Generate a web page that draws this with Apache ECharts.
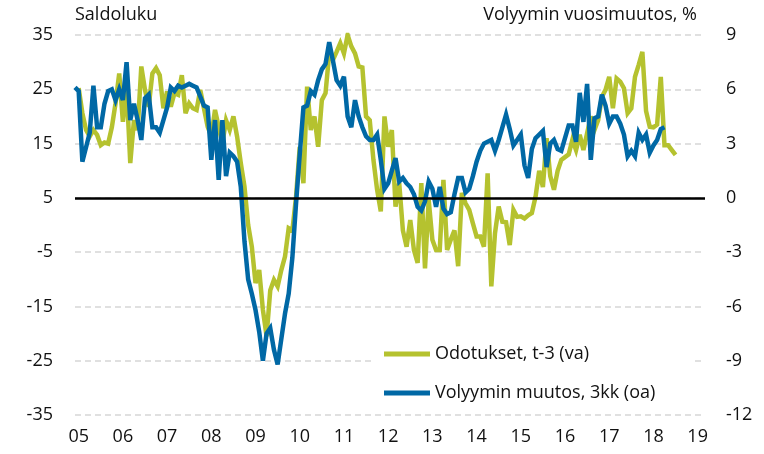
<!DOCTYPE html>
<html>
<head>
<meta charset="utf-8">
<script src="https://cdn.jsdelivr.net/npm/echarts@6/dist/echarts.min.js"></script>
<style>html,body{margin:0;padding:0;background:#fff}#c{width:764px;height:454px}</style>
</head>
<body>
<div id="c"></div>
<script>
// Tick labels for the x axis (years)
const yearLabels = ['05','06','07','08','09','10','11','12','13','14','15','16','17','18','19'];
const monthCount = 172; // monthly categories spanning the axis

// Odotukset, t-3 (va) – left axis, saldoluku (index 0 = first month, null = no value)
const odotukset = [
  null, 25.2, 20.6, 17.5, 16.3, 17.5, 16.6, 14.7, 15.2, 15.0,
  18.0, 22.4, 27.9, 19.0, 25.5, 11.4, 19.3, 17.5, 29.2, 24.9,
  21.8, 27.9, 28.9, 27.6, 21.5, 24.6, 21.8, 24.3, 24.0, 27.6,
  20.6, 22.4, 21.5, 21.2, 24.9, 21.5, 18.1, 16.3, 21.2, 18.1,
  15.0, 19.3, 17.5, 20.0, 16.3, 11.4, 7.1, 0.0, -4.0, -10.7,
  -8.3, -15.6, -20.5, -12.0, -10.1, -11.3, -8.3, -5.8, -0.6, -1.0,
  5.2, 14.4, 7.7, 25.5, 17.5, 20.0, 14.4, 23.0, 24.3, 31.6,
  30.4, 31.9, 33.5, 31.6, 35.0, 32.9, 31.6, 29.2, 29.0, 20.0,
  19.3, 12.0, 6.5, 2.5, 20.0, 14.4, 17.5, 3.4, 7.7, -1.0,
  -4.0, 0.9, -4.6, -7.0, 7.7, -8.0, 4.6, -2.7, -4.6, -4.6,
  8.3, -4.6, -2.7, -1.0, -7.6, 5.9, 4.0, 2.8, 0.3, -2.1,
  -2.1, -4.0, 9.5, -11.3, -1.5, 3.4, 0.6, 0.5, -3.7, 2.8,
  1.5, 1.6, 1.2, 1.8, 2.2, 5.2, 10.0, 7.0, 16.0, 9.0,
  6.5, 10.0, 12.0, 12.5, 13.0, 15.7, 13.8, 16.6, 13.8, 16.9,
  20.0, 17.5, 19.3, 23.6, 24.9, 27.3, 21.5, 27.0, 26.4, 25.2,
  20.6, 21.5, 27.3, 29.5, 31.9, 21.0, 18.1, 18.0, 18.5, 27.3,
  14.7, 14.7, 13.8, 12.9
];

// Volyymin muutos, 3kk (oa) – right axis, %
const volyymi = [
  6.1, 5.9, 2.0, 2.8, 3.6, 6.2, 3.9, 3.9, 5.2, 5.9,
  6.0, 5.4, 6.0, 5.4, 7.5, 4.3, 5.2, 4.3, 3.2, 5.5,
  5.7, 3.9, 3.9, 3.6, 4.3, 5.0, 6.1, 5.9, 6.2, 6.1,
  6.2, 6.3, 6.2, 6.1, 5.6, 5.1, 5.0, 2.1, 4.3, 1.0,
  4.3, 1.2, 2.5, 2.3, 2.0, 0.6, -2.4, -4.5, -5.3, -6.2,
  -7.4, -9.0, -7.5, -7.2, -8.4, -9.2, -7.8, -6.4, -5.3, -3.3,
  -0.3, 2.4, 5.0, 5.1, 5.9, 5.7, 6.5, 7.1, 7.4, 8.6,
  7.6, 6.5, 6.2, 6.7, 4.5, 3.9, 5.4, 4.5, 3.9, 3.4,
  3.2, 3.2, 3.5, 2.1, 0.5, 0.8, 1.5, 2.2, 0.9, 1.1,
  0.8, 0.6, 0.2, -0.5, -0.7, -0.2, 0.9, 0.5, -0.5, 0.6,
  -0.6, -0.9, -0.8, 0.2, 1.1, 1.1, 0.3, 0.5, 1.2, 2.0,
  2.6, 3.0, 3.1, 3.2, 2.6, 3.2, 3.9, 4.6, 3.8, 2.9,
  3.2, 3.5, 1.8, 1.1, 2.7, 3.3, 3.5, 3.7, 1.7, 3.0,
  3.2, 2.7, 2.6, 3.3, 4.0, 4.0, 3.1, 5.8, 4.2, 6.3,
  2.1, 4.4, 4.5, 5.7, 5.1, 4.1, 4.5, 4.5, 4.1, 3.5,
  2.3, 2.6, 2.3, 3.6, 3.2, 3.5, 2.5, 2.9, 3.2, 3.8,
  3.9
];

const leftTicks = { min: -35, max: 35, interval: 10 };
const rightTicks = { min: -12, max: 9, interval: 3 };

const categories = [];
for (let i = 0; i < monthCount; i++) categories.push(String(i));

const FONT = '"Open Sans", "Noto Sans", sans-serif';
const GREEN = '#b5c22f';
const BLUE = '#0068a5';

const chart = echarts.init(document.getElementById('c'), null, { renderer: 'canvas' });
chart.setOption({
  animation: false,
  backgroundColor: '#fff',
  textStyle: { fontFamily: FONT },
  grid: { left: 75, right: 59, top: 35, bottom: 39, containLabel: false },
  graphic: [
    { type: 'text', left: 75, top: 6, style: { text: 'Saldoluku', font: '18px ' + FONT, fill: '#111' } },
    { type: 'text', right: 67, top: 6, style: { text: 'Volyymin vuosimuutos, %', font: '18px ' + FONT, fill: '#111', textAlign: 'right' } }
  ],
  legend: {
    orient: 'vertical',
    left: 375,
    top: 335,
    padding: [8, 37, 8, 9],
    backgroundColor: '#fff',
    itemWidth: 46,
    itemHeight: 5,
    itemGap: 17,
    icon: 'rect',
    textStyle: { fontSize: 18, fontFamily: FONT, color: '#111', lineHeight: 22 },
    data: ['Odotukset, t-3 (va)', 'Volyymin muutos, 3kk (oa)']
  },
  xAxis: {
    type: 'category',
    data: categories,
    boundaryGap: false,
    axisLine: { show: false },
    axisTick: { show: false },
    splitLine: { show: false },
    axisLabel: {
      interval: (i) => i % 12 === 1,
      formatter: (v) => yearLabels[Math.floor((Number(v) - 1) / 12)] || '',
      fontSize: 18, fontFamily: FONT, color: '#111', margin: 13
    }
  },
  yAxis: [
    {
      type: 'value', min: leftTicks.min, max: leftTicks.max, interval: leftTicks.interval,
      position: 'left',
      axisLine: { show: false }, axisTick: { show: false },
      axisLabel: { fontSize: 18, fontFamily: FONT, color: '#111', margin: 22 },
      splitLine: { show: true, lineStyle: { color: '#d6d6d6', width: 1.5, type: [6, 4] } }
    },
    {
      type: 'value', min: rightTicks.min, max: rightTicks.max, interval: rightTicks.interval,
      position: 'right',
      axisLine: { show: false }, axisTick: { show: false },
      axisLabel: { fontSize: 18, fontFamily: FONT, color: '#111', margin: 21 },
      splitLine: { show: false }
    }
  ],
  series: [
    {
      name: 'Odotukset, t-3 (va)',
      type: 'line',
      yAxisIndex: 0,
      data: odotukset,
      showSymbol: false,
      color: GREEN,
      lineStyle: { color: GREEN, width: 4.5, join: 'miter', miterLimit: 4 },
      z: 3,
      markLine: {
        silent: true, symbol: 'none', label: { show: false },
        lineStyle: { color: '#000', width: 2.5, type: 'solid' },
        data: [{ yAxis: 5 }]
      }
    },
    {
      name: 'Volyymin muutos, 3kk (oa)',
      type: 'line',
      yAxisIndex: 1,
      data: volyymi,
      showSymbol: false,
      color: BLUE,
      lineStyle: { color: BLUE, width: 4.5, join: 'miter', miterLimit: 4 },
      z: 4
    }
  ]
});
</script>
</body>
</html>
